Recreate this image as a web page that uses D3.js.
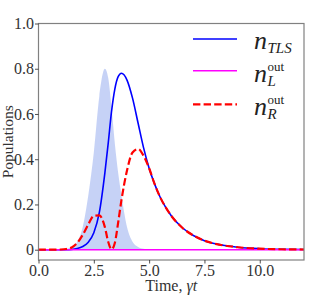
<!DOCTYPE html>
<html lang="en">
<head>
    <meta charset="UTF-8">
    <title>Populations vs time</title>
    <script src="https://d3js.org/d3.v7.min.js"></script>
    <style>
        body { margin: 0; background: #fff; }
        svg { display: block; }
        .serif, .tick text { font-family: 'Liberation Serif', 'Times New Roman', 'DejaVu Serif', serif; }
        .tick text { font-size: 16px; fill: #333; }
    </style>
</head>
<body>
    <div id="chart"></div>
    <script>

// values
const times = [0, 0.5, 1.0, 1.25, 1.5, 1.75, 2.0, 2.25, 2.5, 2.75, 3.0, 3.15, 3.3, 3.45, 3.6, 3.75, 4.0, 4.25, 4.5, 4.75,
    5.0, 5.25, 5.5, 5.75, 6.0, 6.5, 7.0, 7.5, 8.0, 9.0, 10.0, 11.0, 12.0];
const pulse = [0, 0, 0.001, 0.004, 0.012, 0.035, 0.1, 0.24, 0.43, 0.68, 0.8, 0.76, 0.63, 0.47, 0.34, 0.24, 0.1, 0.035, 0.012, 0.004,
    0.001, 0, 0, 0, 0, 0, 0, 0, 0, 0, 0, 0, 0];
const nTLS = [0, 0, 0, 0, 0.001, 0.005, 0.014, 0.033, 0.075, 0.165, 0.34, 0.47, 0.61, 0.71, 0.765, 0.78, 0.75, 0.67, 0.56, 0.45,
    0.36, 0.29, 0.232, 0.187, 0.15, 0.097, 0.063, 0.04, 0.026, 0.011, 0.0045, 0.002, 0.001];
const nLout = [0, 0, 0, 0, 0, 0, 0, 0, 0, 0, 0, 0, 0, 0, 0, 0, 0, 0, 0, 0,
    0, 0, 0, 0, 0, 0, 0, 0, 0, 0, 0, 0, 0];
const nRout = [0, 0, 0.001, 0.003, 0.01, 0.03, 0.066, 0.112, 0.15, 0.152, 0.1, 0.035, 0.002, 0.03, 0.12, 0.22, 0.35, 0.43, 0.445, 0.415,
    0.36, 0.29, 0.232, 0.187, 0.15, 0.097, 0.063, 0.04, 0.026, 0.011, 0.0045, 0.002, 0.001];

const xTicks = [0, 2.5, 5, 7.5, 10];
const xTickLabels = ["0.0", "2.5", "5.0", "7.5", "10.0"];
const yTicks = [0, 0.2, 0.4, 0.6, 0.8, 1.0];
const yTickLabels = ["0", "0.2", "0.4", "0.6", "0.8", "1.0"];

const width = 332, height = 295;
const margin = { left: 38.5, right: 28, top: 23.5, bottom: 35 };

const svg = d3.select("#chart").append("svg")
    .attr("width", width)
    .attr("height", height);

const x = d3.scaleLinear().domain([0, 12]).range([margin.left, width - margin.right]);
const y = d3.scaleLinear().domain([-0.0455, 1.0]).range([height - margin.bottom, margin.top]);

const pts = series => times.map((t, i) => [t, series[i]]);

// pulse
svg.append("path")
    .datum(pts(pulse))
    .attr("fill", "royalblue")
    .attr("fill-opacity", 0.3)
    .attr("d", d3.area().curve(d3.curveMonotoneX)
        .x(d => x(d[0])).y0(y(0)).y1(d => y(d[1])));

const line = d3.line().curve(d3.curveMonotoneX).x(d => x(d[0])).y(d => y(d[1]));

svg.append("path").datum(pts(nTLS))
    .attr("fill", "none").attr("stroke", "#0000ff").attr("stroke-width", 1.6)
    .attr("d", line);
svg.append("path").datum(pts(nLout))
    .attr("fill", "none").attr("stroke", "#ff00ff").attr("stroke-width", 1.6)
    .attr("d", line);
svg.append("path").datum(pts(nRout))
    .attr("fill", "none").attr("stroke", "#ff0000").attr("stroke-width", 2.2)
    .attr("stroke-dasharray", "7.4,3.2")
    .attr("d", line);

// frame
svg.append("rect")
    .attr("x", margin.left).attr("y", margin.top)
    .attr("width", width - margin.left - margin.right)
    .attr("height", height - margin.top - margin.bottom)
    .attr("fill", "none").attr("stroke", "#808080").attr("stroke-width", 1.2);

// axes
const xAxis = svg.append("g")
    .attr("transform", `translate(0,${height - margin.bottom})`)
    .call(d3.axisBottom(x).tickValues(xTicks).tickSize(3.5).tickPadding(1)
        .tickFormat((d, i) => xTickLabels[i]));
const yAxis = svg.append("g")
    .attr("transform", `translate(${margin.left},0)`)
    .call(d3.axisLeft(y).tickValues(yTicks).tickSize(3.5).tickPadding(1)
        .tickFormat((d, i) => yTickLabels[i]));
[xAxis, yAxis].forEach(g => {
    g.attr("font-family", null).attr("font-size", null);
    g.select(".domain").remove();
    g.selectAll(".tick line").attr("stroke", "#222").attr("stroke-width", 0.8);
});

// axis labels
svg.append("text")
    .attr("class", "serif")
    .attr("x", (margin.left + width - margin.right) / 2)
    .attr("y", 291)
    .attr("text-anchor", "middle")
    .style("font-size", "16px")
    .attr("fill", "#333")
    .html('Time, <tspan font-style="italic">γt</tspan>');

svg.append("text")
    .attr("class", "serif")
    .attr("transform", `translate(13,${(margin.top + height - margin.bottom) / 2}) rotate(-90)`)
    .attr("text-anchor", "middle")
    .style("font-size", "15.5px")
    .attr("fill", "#333")
    .text("Populations");

// legend
const legendItems = [
    { color: "#0000ff", dash: null, lw: 1.6, ly: 39, base: 49, sub: "TLS", sup: null },
    { color: "#ff00ff", dash: null, lw: 1.6, ly: 70.7, base: 82, sub: "L", sup: "out" },
    { color: "#ff0000", dash: "7.4,3.2", lw: 2.2, ly: 104.3, base: 115, sub: "R", sup: "out" }
];
const lg = svg.append("g").attr("class", "serif").attr("fill", "#222");
legendItems.forEach(it => {
    lg.append("line")
        .attr("x1", 193).attr("x2", 237).attr("y1", it.ly).attr("y2", it.ly)
        .attr("stroke", it.color).attr("stroke-width", it.lw)
        .attr("stroke-dasharray", it.dash);
    const n = lg.append("text")
        .attr("x", 254).attr("y", it.base)
        .style("font-size", "26px").style("font-style", "italic")
        .text("n");
    const sx = 254 + n.node().getComputedTextLength() + 0.5;
    lg.append("text")
        .attr("x", sx).attr("y", it.base + 4)
        .style("font-size", "15px").style("font-style", "italic")
        .text(it.sub);
    if (it.sup) {
        lg.append("text")
            .attr("x", sx).attr("y", it.base - 11)
            .style("font-size", "13px")
            .text(it.sup);
    }
});

    </script>
</body>
</html>
